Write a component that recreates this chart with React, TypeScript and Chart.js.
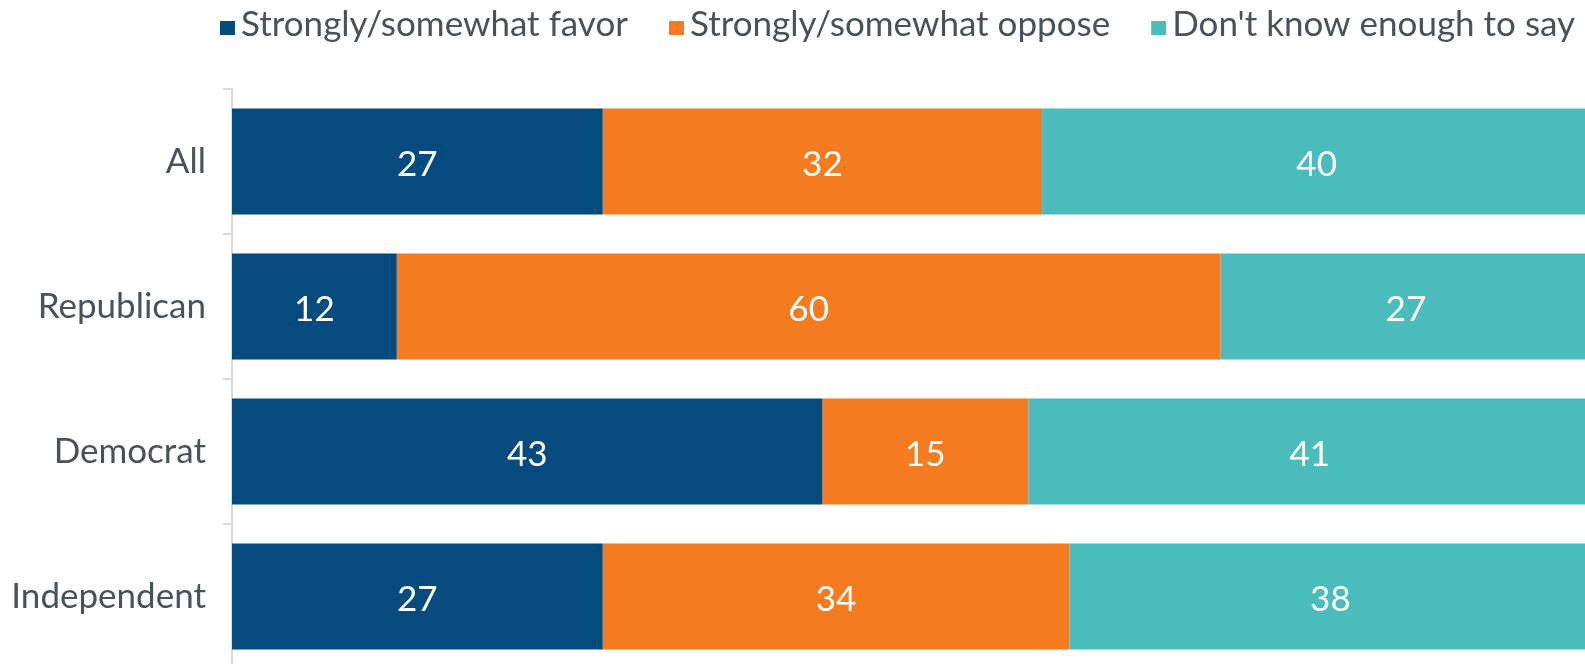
import React, { useEffect, useRef } from "react";
import { Chart, registerables } from "chart.js";

Chart.register(...registerables);

const categories = ["All", "Republican", "Democrat", "Independent"];
const seriesNames = ["Strongly/somewhat favor", "Strongly/somewhat oppose", "Don't know enough to say"];
const favor = [27, 12, 43, 27];
const oppose = [32, 60, 15, 34];
const dontKnow = [40, 27, 41, 38];
const seriesColors = ["#054b7d", "#f47b20", "#4bbcbc"];

const TEXT_COLOR = "#4b5159";
const FONT_FAMILY = "Lato, 'Open Sans', sans-serif";

const valueLabelPlugin = {
  id: "valueLabels",
  afterDatasetsDraw(chart: any) {
    const ctx = chart.ctx;
    ctx.save();
    ctx.fillStyle = "#ffffff";
    ctx.font = `35px ${FONT_FAMILY}`;
    ctx.textAlign = "center";
    ctx.textBaseline = "middle";
    chart.data.datasets.forEach((ds: any, i: number) => {
      const meta = chart.getDatasetMeta(i);
      meta.data.forEach((el: any, j: number) => {
        const v = ds.data[j];
        const cx = (el.x + el.base) / 2;
        ctx.fillText(String(Math.round(v)), cx, el.y + 3);
      });
    });
    ctx.restore();
  },
};

const legendPlugin = {
  id: "customLegend",
  afterDraw(chart: any) {
    const ctx = chart.ctx;
    ctx.save();
    ctx.font = `35px ${FONT_FAMILY}`;
    ctx.textBaseline = "alphabetic";
    ctx.textAlign = "left";
    let x = 220;
    const baseline = 36;
    chart.data.datasets.forEach((ds: any) => {
      ctx.fillStyle = ds.backgroundColor;
      ctx.fillRect(x, 21, 15, 14);
      x += 15 + 6;
      ctx.fillStyle = TEXT_COLOR;
      ctx.fillText(ds.label, x, baseline);
      x += ctx.measureText(ds.label).width + 41;
    });
    ctx.restore();
  },
};

export default function App() {
  const ref = useRef<HTMLCanvasElement | null>(null);

  useEffect(() => {
    document.body.style.margin = "0";
    const canvas = ref.current!;
    const chart = new Chart(canvas, {
      type: "bar",
      data: {
        labels: categories,
        datasets: [
          { label: seriesNames[0], data: favor, backgroundColor: seriesColors[0] },
          { label: seriesNames[1], data: oppose, backgroundColor: seriesColors[1] },
          { label: seriesNames[2], data: dontKnow, backgroundColor: seriesColors[2] },
        ].map((d) => ({ ...d, borderWidth: 0, barPercentage: 0.732, categoryPercentage: 1 })),
      },
      options: {
        indexAxis: "y",
        responsive: false,
        animation: false,
        layout: { padding: { top: 89, left: 0, right: 0, bottom: 0 } },
        plugins: {
          legend: { display: false },
          tooltip: { enabled: false },
        },
        scales: {
          x: {
            stacked: true,
            min: 0,
            max: 100,
            display: false,
          },
          y: {
            stacked: true,
            afterFit(scale: any) {
              scale.width = 232;
              scale.paddingTop = 0;
              scale.paddingBottom = 0;
            },
            grid: {
              offset: true,
              drawOnChartArea: false,
              drawTicks: true,
              tickLength: 9,
              color: "#d9d9d9",
              lineWidth: 2,
            },
            border: { display: true, color: "#d9d9d9", width: 2 },
            ticks: {
              padding: 17,
              color: TEXT_COLOR,
              font: { family: FONT_FAMILY, size: 35 },
            },
          },
        },
      },
      plugins: [valueLabelPlugin, legendPlugin],
    } as any);
    return () => chart.destroy();
  }, []);

  return (
    <div
      style={{
        position: "fixed",
        left: 0,
        top: 0,
        width: 1585,
        height: 664,
        overflow: "hidden",
        background: "#ffffff",
      }}
    >
      <canvas ref={ref} width={1605} height={669} style={{ display: "block", width: 1605, height: 669 }} />
    </div>
  );
}
